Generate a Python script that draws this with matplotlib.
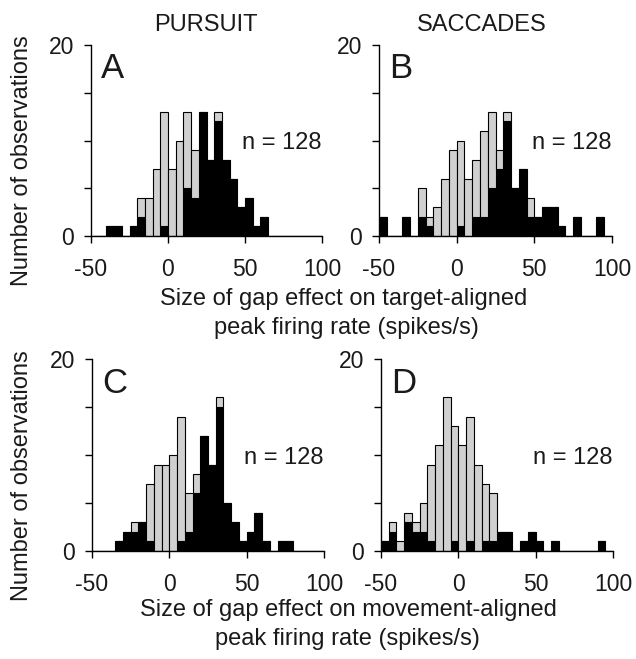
import numpy as np
import matplotlib
matplotlib.use("Agg")
import matplotlib.pyplot as plt

plt.rcParams['font.family'] = ['Liberation Sans', 'DejaVu Sans']

# Bin left edges (bin width 5, from -50 to 95)
bin_left = list(range(-50, 100, 5))
bin_width = 5

# Panel A (pursuit, target-aligned)
a_black = [0, 0, 1, 1, 0, 1, 2, 0, 0, 1, 0, 0, 5, 4, 13, 8, 12, 8, 6, 3, 4, 1, 2, 0, 0, 0, 0, 0, 0, 0]
a_gray  = [0, 0, 0, 0, 0, 0, 2, 4, 7, 12, 7, 10, 8, 5, 0, 0, 1, 0, 0, 0, 0, 0, 0, 0, 0, 0, 0, 0, 0, 0]
# Panel B (saccades, target-aligned)
b_black = [2, 0, 0, 2, 0, 2, 1, 0, 0, 0, 1, 0, 2, 2, 5, 7, 12, 5, 7, 2, 2, 3, 3, 1, 0, 2, 0, 0, 2, 0]
b_gray  = [0, 0, 0, 0, 0, 3, 1, 3, 6, 9, 9, 6, 6, 9, 8, 2, 1, 0, 0, 2, 0, 0, 0, 0, 0, 0, 0, 0, 0, 0]
# Panel C (pursuit, movement-aligned)
c_black = [0, 0, 0, 1, 2, 2, 3, 1, 0, 0, 0, 1, 2, 6, 12, 9, 15, 5, 3, 1, 2, 4, 1, 0, 1, 1, 0, 0, 0, 0]
c_gray  = [0, 0, 0, 0, 0, 1, 0, 6, 9, 9, 10, 13, 4, 2, 0, 0, 1, 0, 0, 0, 0, 0, 0, 0, 0, 0, 0, 0, 0, 0]
# Panel D (saccades, movement-aligned)
d_black = [1, 2, 0, 3, 2, 2, 1, 0, 0, 1, 0, 1, 0, 1, 1, 2, 2, 0, 1, 2, 1, 0, 1, 0, 0, 0, 0, 0, 1, 0]
d_gray  = [0, 1, 1, 1, 1, 3, 8, 11, 16, 12, 11, 13, 9, 6, 5, 0, 0, 0, 0, 0, 0, 0, 0, 0, 0, 0, 0, 0, 0, 0]

panel_letters = ["A", "B", "C", "D"]
n_labels = ["n = 128", "n = 128", "n = 128", "n = 128"]
column_titles = ["PURSUIT", "SACCADES"]
xticks = [-50, 0, 50, 100]
xticklabels = ["-50", "0", "50", "100"]
yticks_major = [0, 20]
yticks_minor = [5, 10, 15]
ylabel = "Number of observations"
xlabel_top = ["Size of gap effect on target-aligned", "peak firing rate (spikes/s)"]
xlabel_bottom = ["Size of gap effect on movement-aligned", "peak firing rate (spikes/s)"]

W, H = 636, 659
fig = plt.figure(figsize=(W / 100, H / 100), dpi=100)

def px_axes(x0, x1, ybot, ytop):
    return [x0 / W, 1 - ybot / H, (x1 - x0) / W, (ybot - ytop) / H]

axes_px = [
    (91, 322, 236, 45),
    (379, 612, 236, 45),
    (92, 324, 551, 359),
    (381, 613, 551, 359),
]
data = [(a_black, a_gray), (b_black, b_gray), (c_black, c_gray), (d_black, d_gray)]

GRAY = "#d0d0d0"
FS = 17
FS_TICK = 16.5
TXT = "#1a1a1a"

for i, (pos, (blk, gry)) in enumerate(zip(axes_px, data)):
    ax = fig.add_axes(px_axes(*pos))
    x = np.array(bin_left, dtype=float)
    blk = np.array(blk)
    gry = np.array(gry)
    ax.bar(x, blk, width=bin_width, align='edge', color='black',
           edgecolor='black', linewidth=0.8, zorder=2)
    ax.bar(x, gry, width=bin_width, bottom=blk, align='edge', color=GRAY,
           edgecolor='black', linewidth=0.8, zorder=2)
    ax.set_xlim(-50, 100)
    ax.set_ylim(0, 20)
    for s in ['top', 'right']:
        ax.spines[s].set_visible(False)
    for s in ['left', 'bottom']:
        ax.spines[s].set_linewidth(1.0)
        ax.spines[s].set_zorder(3)
    ax.set_xticks(xticks)
    ax.set_xticklabels(xticklabels, fontsize=FS_TICK, color=TXT)
    ax.set_yticks(yticks_major)
    ax.set_yticks(yticks_minor, minor=True)
    ax.set_yticklabels([str(v) for v in yticks_major], fontsize=FS_TICK, color=TXT)
    ax.tick_params(axis='both', which='both', direction='out', length=5, width=1.0)
    ax.tick_params(axis='x', pad=11)
    ax.tick_params(axis='y', pad=7)
    ax.set_facecolor('none')
    ax.text(-43.5, 16.5, panel_letters[i], fontsize=25, ha='left', va='baseline', color=TXT)
    ax.text(99.5, 9.1, n_labels[i], fontsize=FS, ha='right', va='baseline', color=TXT)

def ftext(xp, yp, s, **kw):
    fig.text(xp / W, 1 - yp / H, s, color=TXT, **kw)

ftext(206, 25, column_titles[0], fontsize=FS, ha='center', va='center')
ftext(482, 25, column_titles[1], fontsize=FS, ha='center', va='center')

ftext(22, 161, ylabel, fontsize=FS, rotation=90, ha='center', va='center')
ftext(22, 476, ylabel, fontsize=FS, rotation=90, ha='center', va='center')

ftext(344, 299, xlabel_top[0], fontsize=FS, ha='center', va='center')
ftext(346, 328, xlabel_top[1], fontsize=FS, ha='center', va='center')
ftext(348, 610, xlabel_bottom[0], fontsize=FS, ha='center', va='center')
ftext(347, 639, xlabel_bottom[1], fontsize=FS, ha='center', va='center')

fig.savefig("out.png", dpi=100)
